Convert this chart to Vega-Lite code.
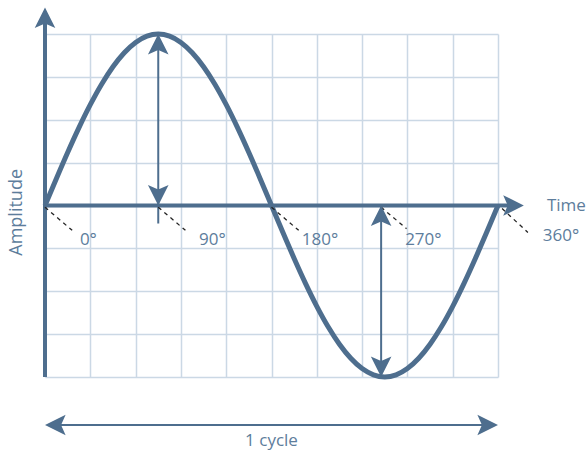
{
  "$schema": "https://vega.github.io/schema/vega-lite/v6.json",
  "width": 453,
  "height": 343,
  "autosize": {"type": "none"},
  "padding": {"left": 45, "top": 34, "right": 89, "bottom": 76},
  "background": "white",
  "config": {
    "view": {"stroke": null},
    "axis": {"grid": true, "gridColor": "#cbd8e5", "gridWidth": 1.5, "labels": false, "ticks": false, "domain": false, "title": null},
    "text": {"font": "Open Sans", "fontSize": 17, "color": "#5d7d9c"}
  },
  "datasets": {
    "wave": [
      {"x": 0, "y": 0}, {"x": 0.25, "y": 0.6257}, {"x": 0.5, "y": 1.2361}, {"x": 0.75, "y": 1.816}, {"x": 1, "y": 2.3511},
      {"x": 1.25, "y": 2.8284}, {"x": 1.5, "y": 3.2361}, {"x": 1.75, "y": 3.564}, {"x": 2, "y": 3.8042}, {"x": 2.25, "y": 3.9507},
      {"x": 2.5, "y": 4}, {"x": 2.75, "y": 3.9507}, {"x": 3, "y": 3.8042}, {"x": 3.25, "y": 3.564}, {"x": 3.5, "y": 3.2361},
      {"x": 3.75, "y": 2.8284}, {"x": 4, "y": 2.3511}, {"x": 4.25, "y": 1.816}, {"x": 4.5, "y": 1.2361}, {"x": 4.75, "y": 0.6257},
      {"x": 5, "y": 0}, {"x": 5.25, "y": -0.6257}, {"x": 5.5, "y": -1.2361}, {"x": 5.75, "y": -1.816}, {"x": 6, "y": -2.3511},
      {"x": 6.25, "y": -2.8284}, {"x": 6.5, "y": -3.2361}, {"x": 6.75, "y": -3.564}, {"x": 7, "y": -3.8042}, {"x": 7.25, "y": -3.9507},
      {"x": 7.5, "y": -4}, {"x": 7.75, "y": -3.9507}, {"x": 8, "y": -3.8042}, {"x": 8.25, "y": -3.564}, {"x": 8.5, "y": -3.2361},
      {"x": 8.75, "y": -2.8284}, {"x": 9, "y": -2.3511}, {"x": 9.25, "y": -1.816}, {"x": 9.5, "y": -1.2361}, {"x": 9.75, "y": -0.6257},
      {"x": 10, "y": 0}
    ],
    "lines": [
      {"kind": "axis", "x": 0, "y": -4, "x2": 0, "y2": 4.3},
      {"kind": "axis", "x": 0, "y": 0, "x2": 10.25, "y2": 0},
      {"kind": "thin", "x": 2.5, "y": -0.42, "x2": 2.5, "y2": 3.7},
      {"kind": "thin", "x": 7.42, "y": 0, "x2": 7.42, "y2": -3.7},
      {"kind": "thin", "x": 0.2, "y": -5.12, "x2": 9.8, "y2": -5.12},
      {"kind": "dash", "x": 0, "y": -0.04, "x2": 0.6, "y2": -0.58},
      {"kind": "dash", "x": 2.5, "y": -0.04, "x2": 3.1, "y2": -0.58},
      {"kind": "dash", "x": 5, "y": -0.04, "x2": 5.6, "y2": -0.58},
      {"kind": "dash", "x": 7.42, "y": -0.04, "x2": 7.98, "y2": -0.54},
      {"kind": "dash", "x": 10.09, "y": -0.07, "x2": 10.66, "y2": -0.63}
    ],
    "heads": [
      {"x": 0, "y": 4.62, "dir": "up"},
      {"x": 10.57, "y": 0, "dir": "right"},
      {"x": 2.5, "y": 4, "dir": "up"},
      {"x": 2.5, "y": 0, "dir": "down"},
      {"x": 7.42, "y": 0, "dir": "up"},
      {"x": 7.42, "y": -4, "dir": "down"},
      {"x": 0, "y": -5.12, "dir": "left"},
      {"x": 10, "y": -5.12, "dir": "right"}
    ],
    "labels": [
      {"x": 0.77, "y": -0.93, "text": "0°"},
      {"x": 3.4, "y": -0.93, "text": "90°"},
      {"x": 5.67, "y": -0.93, "text": "180°"},
      {"x": 7.95, "y": -0.93, "text": "270°"},
      {"x": 10.99, "y": -0.82, "text": "360°"},
      {"x": 11.08, "y": -0.12, "text": "Time"}
    ],
    "titles": [
      {"x": -0.62, "y": -0.16, "text": "Amplitude", "role": "vertical"},
      {"x": 5, "y": -5.5, "text": "1 cycle", "role": "horizontal"}
    ]
  },
  "layer": [
    {
      "data": {"name": "wave"},
      "mark": {"type": "line", "color": "#4e6e8e", "strokeWidth": 5, "interpolate": "monotone"},
      "encoding": {
        "x": {"field": "x", "type": "quantitative", "scale": {"domain": [0, 10], "nice": false, "zero": false}, "axis": {"values": [0,1,2,3,4,5,6,7,8,9,10]}},
        "y": {"field": "y", "type": "quantitative", "scale": {"domain": [-4, 4], "nice": false, "zero": false}, "axis": {"values": [-4,-3,-2,-1,0,1,2,3,4]}}
      }
    },
    {
      "data": {"name": "lines"},
      "transform": [{"filter": "datum.kind === 'axis'"}],
      "mark": {"type": "rule", "color": "#4e6e8e", "strokeWidth": 4},
      "encoding": {
        "x": {"field": "x", "type": "quantitative"},
        "y": {"field": "y", "type": "quantitative"},
        "x2": {"field": "x2"},
        "y2": {"field": "y2"}
      }
    },
    {
      "data": {"name": "lines"},
      "transform": [{"filter": "datum.kind === 'thin'"}],
      "mark": {"type": "rule", "color": "#4e6e8e", "strokeWidth": 2},
      "encoding": {
        "x": {"field": "x", "type": "quantitative"},
        "y": {"field": "y", "type": "quantitative"},
        "x2": {"field": "x2"},
        "y2": {"field": "y2"}
      }
    },
    {
      "data": {"name": "lines"},
      "transform": [{"filter": "datum.kind === 'dash'"}],
      "mark": {"type": "rule", "color": "#222222", "strokeWidth": 1.3, "strokeDash": [4, 4]},
      "encoding": {
        "x": {"field": "x", "type": "quantitative"},
        "y": {"field": "y", "type": "quantitative"},
        "x2": {"field": "x2"},
        "y2": {"field": "y2"}
      }
    },
    {
      "data": {"name": "heads"},
      "transform": [{"filter": "datum.dir === 'up'"}],
      "mark": {"type": "point", "shape": "M0,0L0.5,1L0,0.78L-0.5,1Z", "filled": true, "color": "#4e6e8e", "opacity": 1, "size": 1700, "strokeWidth": 0, "angle": 0},
      "encoding": {
        "x": {"field": "x", "type": "quantitative"},
        "y": {"field": "y", "type": "quantitative"}
      }
    },
    {
      "data": {"name": "heads"},
      "transform": [{"filter": "datum.dir === 'down'"}],
      "mark": {"type": "point", "shape": "M0,0L0.5,1L0,0.78L-0.5,1Z", "filled": true, "color": "#4e6e8e", "opacity": 1, "size": 1700, "strokeWidth": 0, "angle": 180},
      "encoding": {
        "x": {"field": "x", "type": "quantitative"},
        "y": {"field": "y", "type": "quantitative"}
      }
    },
    {
      "data": {"name": "heads"},
      "transform": [{"filter": "datum.dir === 'right'"}],
      "mark": {"type": "point", "shape": "M0,0L0.5,1L0,0.78L-0.5,1Z", "filled": true, "color": "#4e6e8e", "opacity": 1, "size": 1700, "strokeWidth": 0, "angle": 90},
      "encoding": {
        "x": {"field": "x", "type": "quantitative"},
        "y": {"field": "y", "type": "quantitative"}
      }
    },
    {
      "data": {"name": "heads"},
      "transform": [{"filter": "datum.dir === 'left'"}],
      "mark": {"type": "point", "shape": "M0,0L0.5,1L0,0.78L-0.5,1Z", "filled": true, "color": "#4e6e8e", "opacity": 1, "size": 1700, "strokeWidth": 0, "angle": 270},
      "encoding": {
        "x": {"field": "x", "type": "quantitative"},
        "y": {"field": "y", "type": "quantitative"}
      }
    },
    {
      "data": {"name": "labels"},
      "mark": {"type": "text", "align": "left", "baseline": "alphabetic"},
      "encoding": {
        "x": {"field": "x", "type": "quantitative"},
        "y": {"field": "y", "type": "quantitative"},
        "text": {"field": "text"}
      }
    },
    {
      "data": {"name": "titles"},
      "transform": [{"filter": "datum.role === 'vertical'"}],
      "mark": {"type": "text", "align": "center", "baseline": "middle", "angle": 270, "fontSize": 18},
      "encoding": {
        "x": {"field": "x", "type": "quantitative"},
        "y": {"field": "y", "type": "quantitative"},
        "text": {"field": "text"}
      }
    },
    {
      "data": {"name": "titles"},
      "transform": [{"filter": "datum.role === 'horizontal'"}],
      "mark": {"type": "text", "align": "center", "baseline": "middle"},
      "encoding": {
        "x": {"field": "x", "type": "quantitative"},
        "y": {"field": "y", "type": "quantitative"},
        "text": {"field": "text"}
      }
    }
  ]
}
